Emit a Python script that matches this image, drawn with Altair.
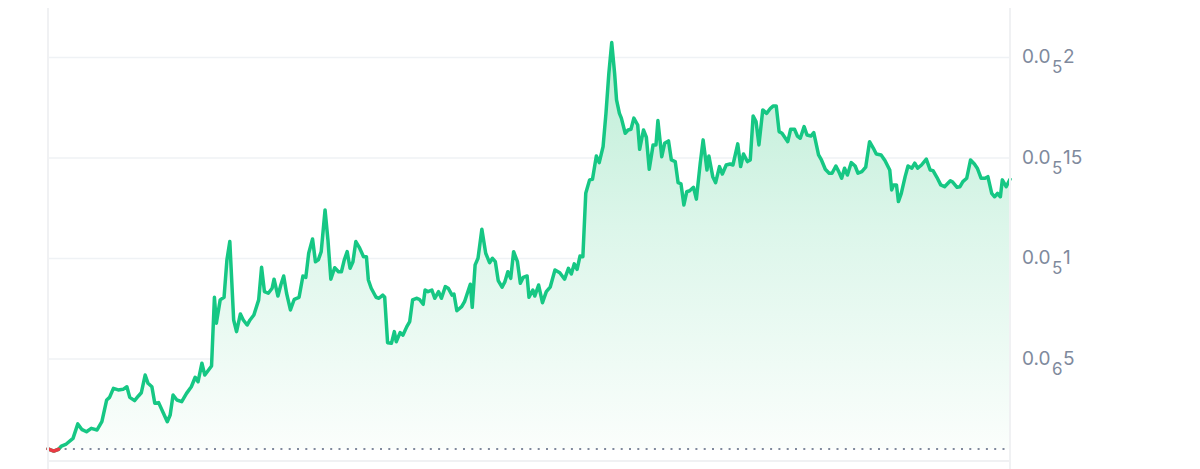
import altair as alt
import pandas as pd

# time (days from start of the window) and price in units of 1e-6
days = [
    0.0, 0.6, 1.1, 1.4, 1.9, 2.6, 3.1, 3.5, 4.0, 4.5,
    5.1, 5.6, 6.1, 6.4, 6.8, 7.3, 7.8, 8.2, 8.5, 9.0,
    9.4, 9.7, 10.1, 10.4, 10.8, 11.1, 11.5, 12.0, 12.4, 12.7,
    13.0, 13.4, 13.9, 14.4, 14.9, 15.3, 15.6, 16.0, 16.3, 17.0,
    17.3, 17.5, 17.9, 18.3, 18.6, 18.9, 19.3, 19.6, 20.0, 20.3,
    20.7, 21.0, 21.4, 21.9, 22.2, 22.5, 22.9, 23.3, 23.5, 23.9,
    24.2, 24.5, 24.8, 25.2, 25.6, 26.1, 26.5, 26.8, 27.1, 27.5,
    27.8, 28.1, 28.4, 28.8, 29.1, 29.4, 29.8, 30.2, 30.5, 30.8,
    31.1, 31.4, 31.7, 32.0, 32.4, 32.8, 33.1, 33.3, 33.6, 34.1,
    34.4, 34.8, 35.0, 35.3, 35.7, 36.0, 36.2, 36.6, 36.9, 37.3,
    37.6, 37.9, 38.3, 38.6, 39.0, 39.2, 39.5, 39.9, 40.2, 40.6,
    40.9, 41.3, 41.6, 42.0, 42.2, 42.5, 43.0, 43.3, 43.9, 44.1,
    44.4, 44.7, 45.1, 45.5, 45.9, 46.2, 46.5, 46.8, 47.2, 47.5,
    47.8, 48.1, 48.4, 48.8, 49.1, 49.4, 49.8, 50.0, 50.4, 50.6,
    51.0, 51.4, 51.8, 52.2, 52.7, 53.2, 53.7, 54.1, 54.4, 54.7,
    55.0, 55.3, 55.6, 55.9, 56.3, 56.6, 57.0, 57.3, 57.7, 58.0,
    58.3, 58.6, 58.9, 59.1, 59.4, 59.6, 60.0, 60.3, 60.6, 60.9,
    61.3, 61.5, 61.9, 62.2, 62.5, 62.9, 63.2, 63.4, 63.8, 64.1,
    64.5, 64.8, 65.2, 65.5, 65.8, 66.1, 66.4, 66.7, 67.1, 67.4,
    67.8, 68.1, 68.5, 68.7, 69.1, 69.4, 69.8, 70.1, 70.5, 70.9,
    71.2, 71.7, 72.0, 72.3, 72.7, 73.0, 73.3, 73.6, 73.9, 74.3,
    74.7, 75.1, 75.4, 75.7, 76.0, 76.3, 76.9, 77.2, 77.6, 77.9,
    78.2, 78.6, 78.9, 79.3, 79.6, 80.1, 80.4, 80.8, 81.2, 81.5,
    81.9, 82.2, 82.5, 82.8, 83.1, 83.5, 83.9, 84.2, 84.6, 85.0,
    85.4, 85.8, 86.1, 86.6, 87.0, 87.5, 87.7, 87.9, 88.2, 88.4,
    88.7, 89.1, 89.4, 89.8, 90.1, 90.4, 90.8, 91.3, 91.7, 92.0,
    92.4, 92.8, 93.2, 93.8, 94.0, 94.5, 94.8, 95.1, 95.5, 95.9,
    96.3, 96.6, 97.0, 97.4, 97.7, 98.1, 98.4, 98.7, 99.0, 99.2,
    99.6, 100.0,
]

price_micro = [
    0.053, 0.042, 0.051, 0.067, 0.077, 0.105, 0.177, 0.150, 0.138, 0.155,
    0.147, 0.188, 0.296, 0.309, 0.354, 0.346, 0.349, 0.362, 0.309, 0.293,
    0.316, 0.332, 0.420, 0.379, 0.362, 0.280, 0.283, 0.230, 0.188, 0.221,
    0.321, 0.296, 0.288, 0.329, 0.362, 0.409, 0.387, 0.479, 0.420, 0.465,
    0.807, 0.678, 0.794, 0.807, 0.993, 1.084, 0.694, 0.636, 0.724, 0.694,
    0.669, 0.694, 0.719, 0.794, 0.956, 0.835, 0.827, 0.852, 0.897, 0.813,
    0.868, 0.913, 0.827, 0.744, 0.797, 0.807, 0.913, 0.906, 1.026, 1.097,
    0.984, 0.993, 1.034, 1.241, 1.092, 0.897, 0.954, 0.934, 0.934, 0.993,
    1.034, 0.951, 0.984, 1.084, 1.051, 1.009, 1.009, 0.893, 0.852, 0.807,
    0.802, 0.818, 0.807, 0.581, 0.578, 0.636, 0.586, 0.631, 0.619, 0.661,
    0.686, 0.794, 0.802, 0.797, 0.772, 0.843, 0.835, 0.843, 0.802, 0.835,
    0.802, 0.860, 0.852, 0.818, 0.823, 0.740, 0.760, 0.785, 0.872, 0.757,
    0.968, 1.001, 1.145, 1.026, 0.979, 1.001, 0.984, 0.890, 0.857, 0.885,
    0.934, 0.901, 1.034, 0.984, 0.877, 0.906, 0.913, 0.807, 0.843, 0.813,
    0.868, 0.780, 0.835, 0.857, 0.943, 0.929, 0.897, 0.951, 0.923, 0.973,
    0.946, 1.012, 1.009, 1.324, 1.391, 1.394, 1.510, 1.477, 1.556, 1.722,
    1.921, 2.074, 1.921, 1.789, 1.722, 1.698, 1.623, 1.639, 1.643, 1.698,
    1.664, 1.543, 1.639, 1.603, 1.444, 1.565, 1.565, 1.686, 1.506, 1.573,
    1.585, 1.490, 1.482, 1.377, 1.371, 1.266, 1.332, 1.337, 1.354, 1.295,
    1.474, 1.590, 1.440, 1.510, 1.407, 1.377, 1.457, 1.420, 1.465, 1.470,
    1.465, 1.570, 1.457, 1.520, 1.482, 1.490, 1.709, 1.681, 1.565, 1.739,
    1.722, 1.747, 1.759, 1.759, 1.631, 1.623, 1.581, 1.643, 1.643, 1.609,
    1.598, 1.656, 1.614, 1.609, 1.626, 1.515, 1.490, 1.444, 1.424, 1.424,
    1.460, 1.432, 1.399, 1.449, 1.415, 1.477, 1.460, 1.424, 1.432, 1.454,
    1.581, 1.548, 1.520, 1.515, 1.487, 1.440, 1.341, 1.366, 1.366, 1.283,
    1.324, 1.407, 1.460, 1.449, 1.474, 1.449, 1.465, 1.494, 1.440, 1.437,
    1.404, 1.366, 1.357, 1.387, 1.382, 1.354, 1.357, 1.382, 1.399, 1.490,
    1.470, 1.449, 1.399, 1.399, 1.407, 1.324, 1.307, 1.324, 1.307, 1.391,
    1.357, 1.394,
]

baseline_micro = 0.052  # opening price (dotted reference line)
red_points = 3          # first points that sit below the opening price

# axis ticks: value (1e-6 units) and the label "0.0<sub>zeros</sub>digits"
tick_values_micro = [0.5, 1.0, 1.5, 2.0]
tick_lead = ["0.0", "0.0", "0.0", "0.0"]
tick_zeros = ["6", "5", "5", "5"]
tick_digits = ["5", "1", "15", "2"]

UNIT = 1e-6
Y_MIN, Y_MAX = -0.0075 * UNIT, 2.246 * UNIT
X_MIN, X_MAX = 0, 100
W, H = 962, 453
GREEN = "#16c784"
RED = "#ea3943"
GREY_TXT = "#808a9d"
GRID = "#eff2f5"
FRAME = "#f0f1f3"

df = pd.DataFrame({"day": days, "price": [p * UNIT for p in price_micro]})
df["base"] = baseline_micro * UNIT
df_red = df.iloc[:red_points]
ticks = pd.DataFrame({
    "day": [X_MIN] * 4,
    "day2": [X_MAX] * 4,
    "price": [v * UNIT for v in tick_values_micro],
    "lead": tick_lead, "zeros": tick_zeros, "digits": tick_digits,
})
base_df = pd.DataFrame({"day": [X_MIN], "day2": [X_MAX], "price": [baseline_micro * UNIT]})
bottom_df = pd.DataFrame({"day": [X_MIN], "day2": [X_MAX], "price": [Y_MIN]})
sides_df = pd.DataFrame({"day": [X_MIN, X_MAX]})

xs = alt.Scale(domain=[X_MIN, X_MAX], nice=False, zero=False)
ys = alt.Scale(domain=[Y_MIN, Y_MAX], nice=False, zero=False)
X = alt.X("day:Q", scale=xs, axis=None)
Y = alt.Y("price:Q", scale=ys, axis=None)

grid = alt.Chart(ticks).mark_rule(color=GRID, strokeWidth=1.5).encode(
    x=X, x2="day2:Q", y=Y
)

area = alt.Chart(df).mark_area(
    color=alt.Gradient(
        gradient="linear",
        stops=[
            alt.GradientStop(color="#fbfefc", offset=0),
            alt.GradientStop(color="#dcf6ea", offset=0.55),
            alt.GradientStop(color="#bdedd6", offset=1),
        ],
        x1=0, x2=0, y1=1, y2=0,
    )
).encode(x=X, y=Y, y2="base:Q")

base_rule = alt.Chart(base_df).mark_rule(
    color=GREY_TXT, strokeWidth=2, strokeDash=[2, 6.3]
).encode(x=X, x2="day2:Q", y=Y)

line = alt.Chart(df).mark_line(
    color=GREEN, strokeWidth=3.5, strokeJoin="round", strokeCap="round"
).encode(x=X, y=Y)

red = alt.Chart(df_red).mark_line(
    color=RED, strokeWidth=3.5, strokeJoin="round", strokeCap="round"
).encode(x=X, y=Y)

frame_v = alt.Chart(sides_df).mark_rule(color=FRAME, strokeWidth=2).encode(
    x=X, y=alt.value(-8), y2=alt.value(H + 8)
)
frame_b = alt.Chart(bottom_df).mark_rule(color=FRAME, strokeWidth=2).encode(
    x=X, x2="day2:Q", y=Y
)

txt_kw = dict(align="left", baseline="middle", font="Inter", color=GREY_TXT)
lab_lead = alt.Chart(ticks).mark_text(fontSize=19, **txt_kw).encode(
    x=alt.value(W + 12), y=Y, text="lead:N"
)
lab_zero = alt.Chart(ticks).mark_text(fontSize=17, dx=30, dy=11, **txt_kw).encode(
    x=alt.value(W + 12), y=Y, text="zeros:N"
)
lab_dig = alt.Chart(ticks).mark_text(fontSize=19, dx=41, **txt_kw).encode(
    x=alt.value(W + 12), y=Y, text="digits:N"
)

chart = alt.layer(
    grid, area, base_rule, line, red, frame_v, frame_b,
    lab_lead, lab_zero, lab_dig,
).properties(
    width=W, height=H, autosize="none", background="white",
    padding={"left": 40, "top": 0, "right": 182, "bottom": 8},
).configure_view(strokeWidth=0, stroke="transparent")

chart.save("out.html", embed_options={"renderer": "svg", "actions": False})
